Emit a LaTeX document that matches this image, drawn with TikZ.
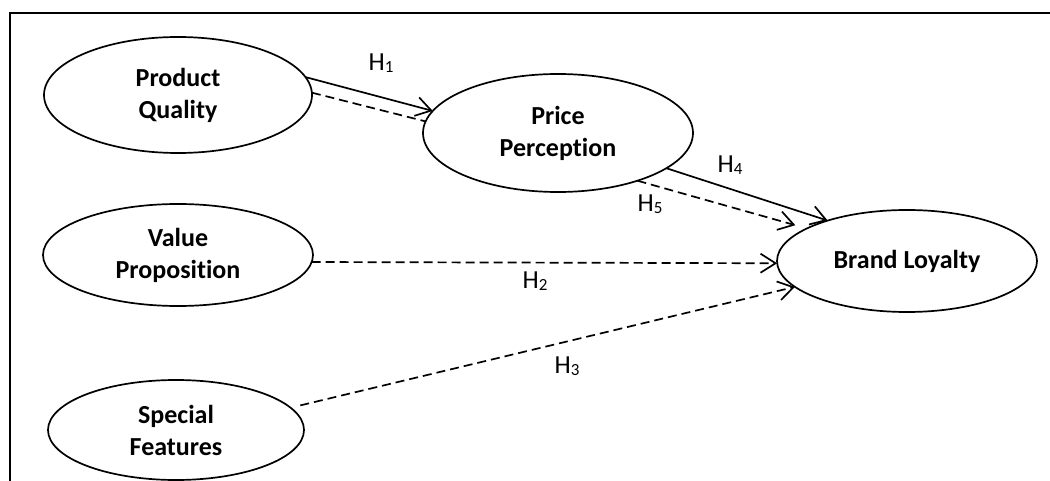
\documentclass[tikz,border=0pt]{standalone}
\usepackage{fontspec}
\setmainfont{Carlito}[RawFeature=-liga]
\usetikzlibrary{shapes.geometric,arrows.meta}
\newcommand{\hypname}[1]{H\raisebox{-2pt}{\fontsize{17}{17}\selectfont #1}}
\begin{document}
\begin{tikzpicture}[x=1pt, y=-1pt, line width=1.7pt,
        construct/.style={draw, ellipse, inner sep=0pt, outer sep=0pt, align=center,
            font=\fontsize{26}{32}\selectfont\bfseries},
        hyplabel/.style={font=\fontsize{26}{26}\selectfont},
        link/.style={-{Straight Barb[length=15pt,width=19pt]}},
        hdash/.style={dash pattern=on 9pt off 5pt}]
        \useasboundingbox (0,0) rectangle (1050,481);
        % frame
        \draw[line width=2pt] (10,481) |- (1050,13.5);
        % constructs
        \node[construct, minimum width=268pt, minimum height=116pt] (quality) at (178,95) {Product\\Quality};
        \node[construct, minimum width=270pt, minimum height=118pt] (price) at (558,133) {Price\\Perception};
        \node[construct, minimum width=270pt, minimum height=102pt] (value) at (178,255) {Value\\Proposition};
        \node[construct, minimum width=256pt, minimum height=100pt] (features) at (176,430) {Special\\Features};
        \node[construct, minimum width=260pt, minimum height=102pt] (loyalty) at (907,261) {Brand Loyalty};
        % paths
        \draw[link] (quality.8) -- (price.170);
        \draw[hdash] (quality.1) -- (price.175);
        \draw[link] (price.-18) -- (loyalty.153);
        \draw[link, hdash, shorten >=12pt] (price.-31) -- (loyalty.162);
        \draw[link, hdash] (value.-3) -- (loyalty.181);
        \draw[link, hdash, shorten <=10pt] (features.11) -- (loyalty.193);
        % hypotheses
        \foreach \x/\y/\n in {381/63/1, 535/281/2, 567/366/3, 730/165/4, 650/204/5}
            \node[hyplabel] (h\n) at (\x,\y) {\hypname{\n}};
    \end{tikzpicture}
\end{document}
